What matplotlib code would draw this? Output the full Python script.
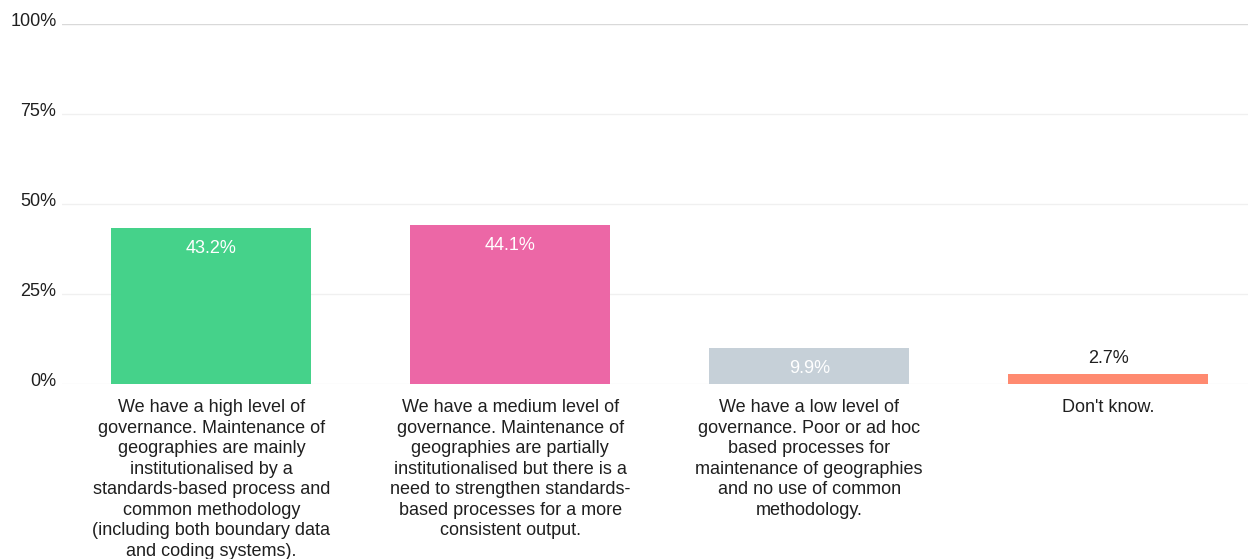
import matplotlib
matplotlib.use("Agg")
import matplotlib.pyplot as plt
import matplotlib.transforms as mtransforms
from matplotlib.ticker import FixedLocator

plt.rcParams['font.family'] = ['Liberation Sans', 'DejaVu Sans']

categories = [
    "We have a high level of\ngovernance. Maintenance of\ngeographies are mainly\ninstitutionalised by a\nstandards-based process and\ncommon methodology\n(including both boundary data\nand coding systems).",
    "We have a medium level of\ngovernance. Maintenance of\ngeographies are partially\ninstitutionalised but there is a\nneed to strengthen standards-\nbased processes for a more\nconsistent output.",
    "We have a low level of\ngovernance. Poor or ad hoc\nbased processes for\nmaintenance of geographies\nand no use of common\nmethodology.",
    "Don't know.",
]
values = [43.2, 44.1, 9.9, 2.7]
colors = ["#45d28a", "#ec67a6", "#c6d0d8", "#ff8a70"]
yticks = [0, 25, 50, 75, 100]
ytick_labels = ["0%", "25%", "50%", "75%", "100%"]

FS = 13
TXT = "#1f1f1f"

W, H = 1248, 559
fig = plt.figure(figsize=(W / 100, H / 100), dpi=100)
ax = fig.add_axes([62 / W, (H - 384) / H, (W - 62) / W, 360 / H])

x = list(range(len(values)))
bars = ax.bar(x, values, width=0.669, color=colors, zorder=2)

ax.set_ylim(0, 100)
ax.set_xlim(-0.5, 3.468)

# horizontal grid lines, the top one darker
for t in yticks:
    ax.axhline(t, color="#d9d9d9" if t == 100 else "#f0f0f0", lw=1, zorder=1)

ax.yaxis.set_major_locator(FixedLocator(yticks))
ax.set_yticklabels(ytick_labels, fontsize=FS, color=TXT)
ax.tick_params(axis="y", length=0, pad=4)
lift = mtransforms.ScaledTranslation(0, 3 / 72, fig.dpi_scale_trans)
for lab in ax.get_yticklabels():
    lab.set_transform(lab.get_transform() + lift)
ax.set_xticks([])
for s in ax.spines.values():
    s.set_visible(False)

# value labels
for xi, v in zip(x, values):
    if v > 5:
        ax.annotate(f"{v}%", (xi, v), xytext=(0, -14.5), textcoords="offset points",
                    ha="center", va="center", color="white", fontsize=FS)
    else:
        ax.annotate(f"{v}%", (xi, v), xytext=(0, 11.5), textcoords="offset points",
                    ha="center", va="center", color=TXT, fontsize=FS)

# category labels under each bar
for xi, lab in zip(x, categories):
    ax.annotate(lab, (xi, 0), xytext=(0, -11), textcoords="offset points",
                ha="center", va="top", fontsize=FS, color=TXT,
                linespacing=1.27, annotation_clip=False)

fig.savefig("out.png", dpi=100)
